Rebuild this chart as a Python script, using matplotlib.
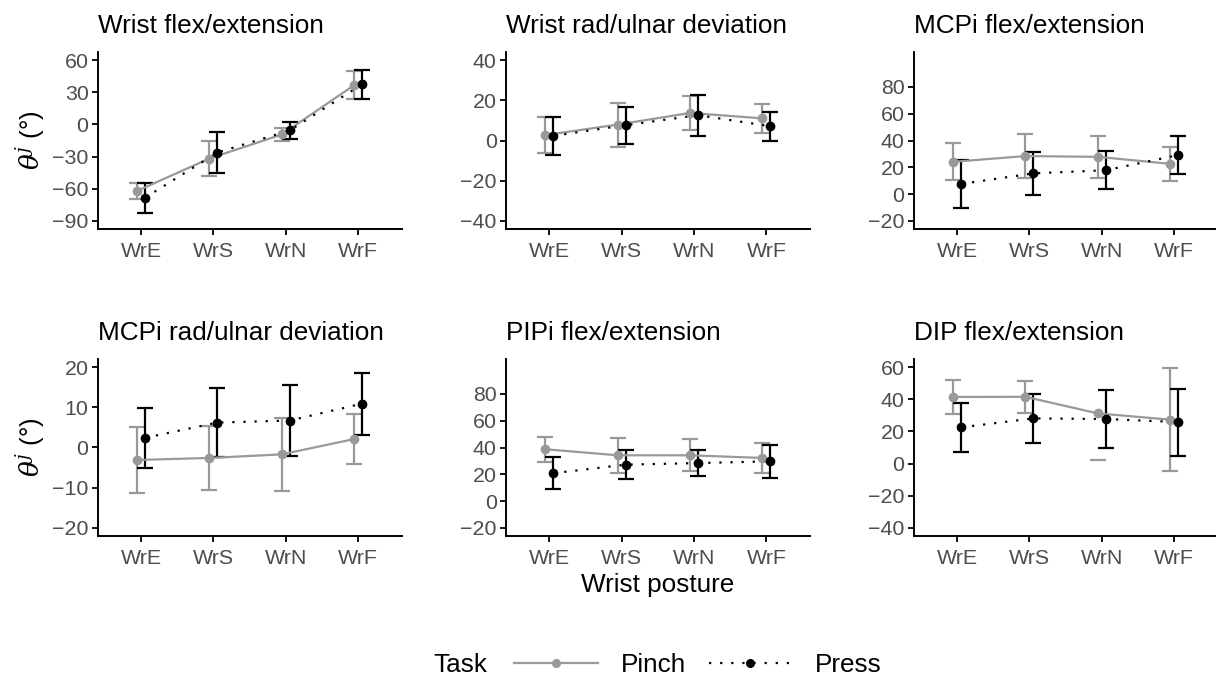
import numpy as np
import matplotlib.pyplot as plt
from matplotlib.lines import Line2D

plt.rcParams['font.family'] = ['Liberation Sans', 'DejaVu Sans']
plt.rcParams['mathtext.fontset'] = 'dejavuserif'

postures = ['WrE', 'WrS', 'WrN', 'WrF']
titles = ['Wrist flex/extension', 'Wrist rad/ulnar deviation', 'MCPi flex/extension',
          'MCPi rad/ulnar deviation', 'PIPi flex/extension', 'DIP flex/extension']

# mean and SD per joint (rows) and posture (cols)
pinch_mean = [[-62.0, -31.8, -9.4, 36.6],
              [2.7, 7.9, 13.7, 11.0],
              [24.1, 28.4, 27.8, 22.6],
              [-3.1, -2.6, -1.7, 2.1],
              [38.7, 34.2, 34.2, 32.2],
              [41.4, 41.5, 31.2, 27.3]]
pinch_sd = [[7.5, 16.2, 6.2, 12.9],
            [9.0, 10.9, 8.4, 7.3],
            [13.7, 16.7, 15.9, 12.9],
            [8.2, 7.9, 9.0, 6.3],
            [9.2, 12.9, 11.9, 11.4],
            [10.4, 9.8, 29.1, 31.9]]
press_mean = [[-68.4, -26.2, -5.6, 37.5],
              [2.3, 7.6, 12.6, 7.1],
              [7.6, 15.5, 17.8, 29.1],
              [2.4, 6.2, 6.7, 10.9],
              [20.8, 27.2, 28.4, 29.7],
              [22.5, 28.1, 27.7, 25.8]]
press_sd = [[14.0, 18.9, 7.9, 13.5],
            [9.3, 9.3, 10.2, 7.2],
            [18.0, 16.2, 14.2, 13.9],
            [7.5, 8.5, 8.8, 7.7],
            [12.0, 10.7, 9.9, 12.3],
            [15.4, 15.4, 18.2, 20.8]]

# y scale limits and breaks for each panel
y_limits = [(-90, 60), (-40, 40), (-20, 100), (-20, 20), (-20, 100), (-40, 60)]
y_breaks = [np.arange(-90, 61, 30), np.arange(-40, 41, 20), np.arange(-20, 81, 20),
            np.arange(-20, 21, 10), np.arange(-20, 81, 20), np.arange(-40, 61, 20)]

GREY = '#999999'
BLACK = '#000000'
CAP = 6
LW = 1.6
FS = 18.8

fig = plt.figure(figsize=(12.16, 6.77), dpi=100)

lefts = [97.6, 505.8, 913.6]
bottoms = [229, 536]
W, H = 304, 177

x = np.arange(1, 5)
dodge = 0.055

for i, title in enumerate(titles):
    r, c = divmod(i, 3)
    ax = fig.add_axes([lefts[c] / 1216, 1 - bottoms[r] / 677, W / 1216, H / 677])
    lo, hi = y_limits[i]
    pad = (hi - lo) * 0.05

    series = [(pinch_mean[i], pinch_sd[i], GREY, '-', -dodge),
              (press_mean[i], press_sd[i], BLACK, (0, (1, 4)), dodge)]
    for mean, sd, col, ls, off in series:
        mean = np.array(mean)
        sd = np.array(sd)
        xs = x + off
        upper = mean + sd
        lower = mean - sd
        ok = upper <= hi
        ax.errorbar(xs[ok], mean[ok], yerr=sd[ok], fmt='none', ecolor=col,
                    elinewidth=LW, capsize=CAP, capthick=LW, zorder=2)
        # out of scale upper end: only lower cap survives
        ax.plot(xs[~ok], lower[~ok], ls='none', marker='_', ms=2 * CAP,
                mew=LW, color=col, zorder=2)
        ax.plot(xs, mean, color=col, ls=ls, lw=LW, zorder=3)
        ax.plot(xs, mean, 'o', color=col, ms=6, zorder=4)

    ax.set_xlim(0.4, 4.6)
    ax.set_ylim(lo - pad, hi + pad)
    ax.set_xticks(x)
    ax.set_xticklabels(postures)
    ax.set_yticks(y_breaks[i])
    ax.tick_params(labelsize=15.4, labelcolor='#4D4D4D', length=4, width=1.3, pad=2.5)
    ax.tick_params(axis='x', pad=5.5)
    for s in ['top', 'right']:
        ax.spines[s].set_visible(False)
    for s in ['left', 'bottom']:
        ax.spines[s].set_linewidth(1.4)
    ax.set_title(title, loc='left', fontsize=FS, pad=14)
    if c == 0:
        ax.set_ylabel(r'$\theta^j$ (°)', fontsize=FS, labelpad=3)

fig.text(658 / 1216, 1 - 585 / 677, 'Wrist posture', ha='center', va='center', fontsize=FS)

handles = [Line2D([], [], color=GREY, ls='-', lw=LW, marker='o', ms=5.5),
           Line2D([], [], color=BLACK, ls=(0, (1, 4)), lw=LW, marker='o', ms=5.5)]
fig.text(433 / 1216, 1 - 665 / 677, 'Task', ha='left', va='center', fontsize=FS)
fig.legend(handles, ['Pinch', 'Press'], loc='center', ncol=2, frameon=False,
           bbox_to_anchor=(698 / 1216, 1 - 665 / 677), fontsize=FS,
           handlelength=3.2, handletextpad=0.87, columnspacing=0.87)

fig.savefig('out.png', dpi=100)
